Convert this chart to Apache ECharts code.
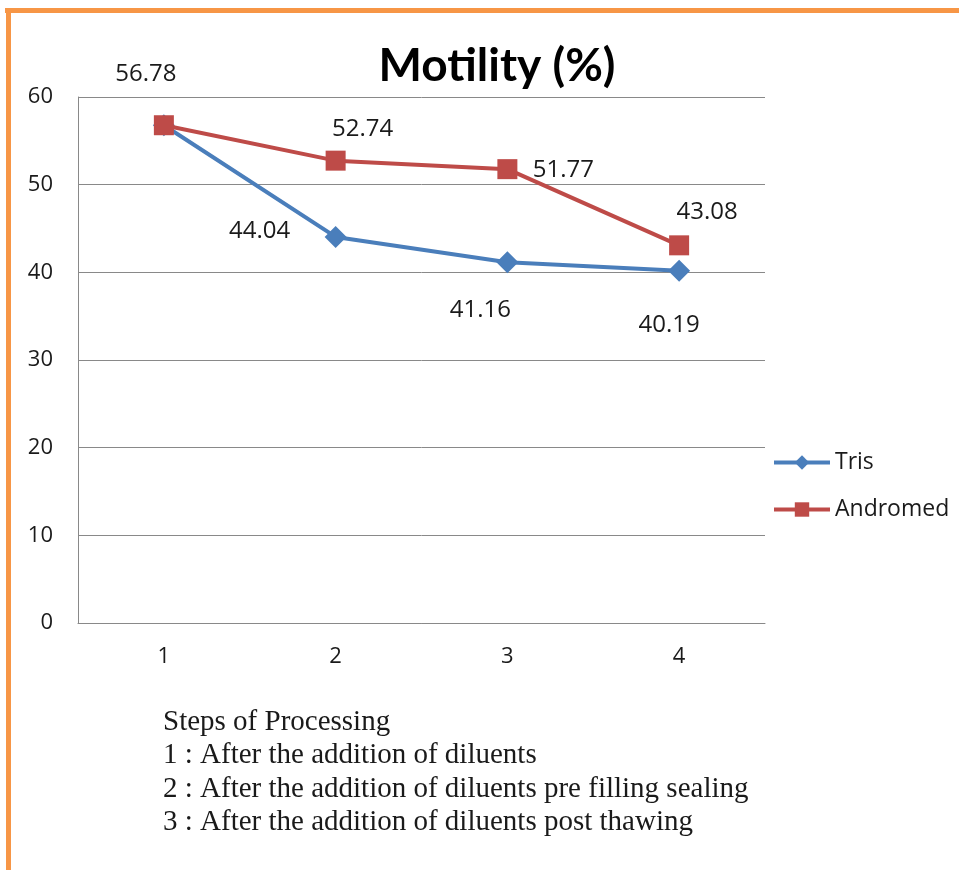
<!DOCTYPE html>
<html>
<head>
<meta charset="utf-8">
<script src="https://cdn.jsdelivr.net/npm/echarts@6/dist/echarts.min.js"></script>
<style>
html,body{margin:0;padding:0;background:#fff;}
#chart{position:absolute;left:0;top:0;width:959px;height:870px;}
</style>
</head>
<body>
<div id="chart"></div>
<script>
// ---- data ----
const categories = ['1', '2', '3', '4'];
const trisValues = [56.78, 44.04, 41.16, 40.19];
const andromedValues = [56.78, 52.74, 51.77, 43.08];
const yTicks = [0, 10, 20, 30, 40, 50, 60];
const seriesNames = ['Tris', 'Andromed'];
const titleText = 'Motility (%)';
const noteLines = [
  'Steps of Processing',
  '1 : After the addition of diluents',
  '2 : After the addition of diluents pre filling sealing',
  '3 : After the addition of diluents post thawing'
];

// ---- styling (label placement offsets) ----
const trisLabelOffsets = [null, [-76, -6], [-27, 48], [-10, 54]];
const andromedLabelOffsets = [[-18, -51], [27, -31], [56, 1], [28, -33]];

function buildData(values, offsets) {
  return values.map((v, i) => {
    const off = offsets[i];
    if (!off) return { value: v, label: { show: false } };
    return { value: v, label: { show: true, position: 'inside', offset: off } };
  });
}

const sansFont = 'Open Sans, Lato, sans-serif';
const labelStyle = {
  show: true,
  color: '#1a1a1a',
  fontSize: 24,
  fontFamily: sansFont,
  formatter: p => p.value.toFixed(2)
};

const chart = echarts.init(document.getElementById('chart'), null, { renderer: 'canvas' });
const option = {
  backgroundColor: '#ffffff',
  animation: false,
  title: {
    text: titleText,
    left: 492,
    textAlign: 'center',
    top: 38,
    textStyle: { fontFamily: 'Lato, Open Sans, sans-serif', fontWeight: 'bold', fontSize: 46, color: '#000' }
  },
  grid: { left: 78, right: 194, top: 97, bottom: 247, containLabel: false },
  legend: {
    orient: 'vertical',
    left: 767,
    top: 446,
    itemWidth: 56,
    itemHeight: 18,
    itemGap: 24,
    data: seriesNames,
    lineStyle: { width: 4 },
    textStyle: { fontSize: 23, color: '#1a1a1a', fontFamily: sansFont }
  },
  xAxis: {
    type: 'category',
    data: categories,
    boundaryGap: true,
    axisLine: { show: true, lineStyle: { color: '#898989', width: 1 } },
    axisTick: { show: false },
    axisLabel: { fontSize: 22, color: '#1a1a1a', margin: 23, fontFamily: sansFont }
  },
  yAxis: {
    type: 'value',
    min: yTicks[0],
    max: yTicks[yTicks.length - 1],
    interval: 10,
    axisLine: { show: true, lineStyle: { color: '#898989', width: 1 } },
    axisTick: { show: false },
    splitLine: { show: true, lineStyle: { color: '#898989', width: 1 } },
    axisLabel: { fontSize: 22, color: '#1a1a1a', margin: 25, fontFamily: sansFont }
  },
  series: [
    {
      name: seriesNames[0],
      type: 'line',
      data: buildData(trisValues, trisLabelOffsets),
      symbol: 'diamond',
      symbolSize: 22,
      color: '#4A7EBB',
      lineStyle: { width: 4, color: '#4A7EBB' },
      itemStyle: { color: '#4A7EBB' },
      label: labelStyle,
      z: 2
    },
    {
      name: seriesNames[1],
      type: 'line',
      data: buildData(andromedValues, andromedLabelOffsets),
      symbol: 'rect',
      symbolSize: 20,
      color: '#BE4B48',
      lineStyle: { width: 4, color: '#BE4B48' },
      itemStyle: { color: '#BE4B48' },
      label: labelStyle,
      z: 3
    }
  ],
  graphic: [
    { type: 'rect', left: 5, top: 8, shape: { width: 954, height: 5 }, style: { fill: '#F79646' }, silent: true },
    { type: 'rect', left: 6, top: 8, shape: { width: 5, height: 862 }, style: { fill: '#F79646' }, silent: true }
  ].concat(noteLines.map((t, i) => ({
    type: 'text',
    left: 163,
    top: 708 + i * 33.3,
    style: { text: t, fill: '#1a1a1a', fontSize: 29, fontFamily: 'Liberation Serif, DejaVu Serif, serif' }
  })))
};
chart.setOption(option);
</script>
</body>
</html>
